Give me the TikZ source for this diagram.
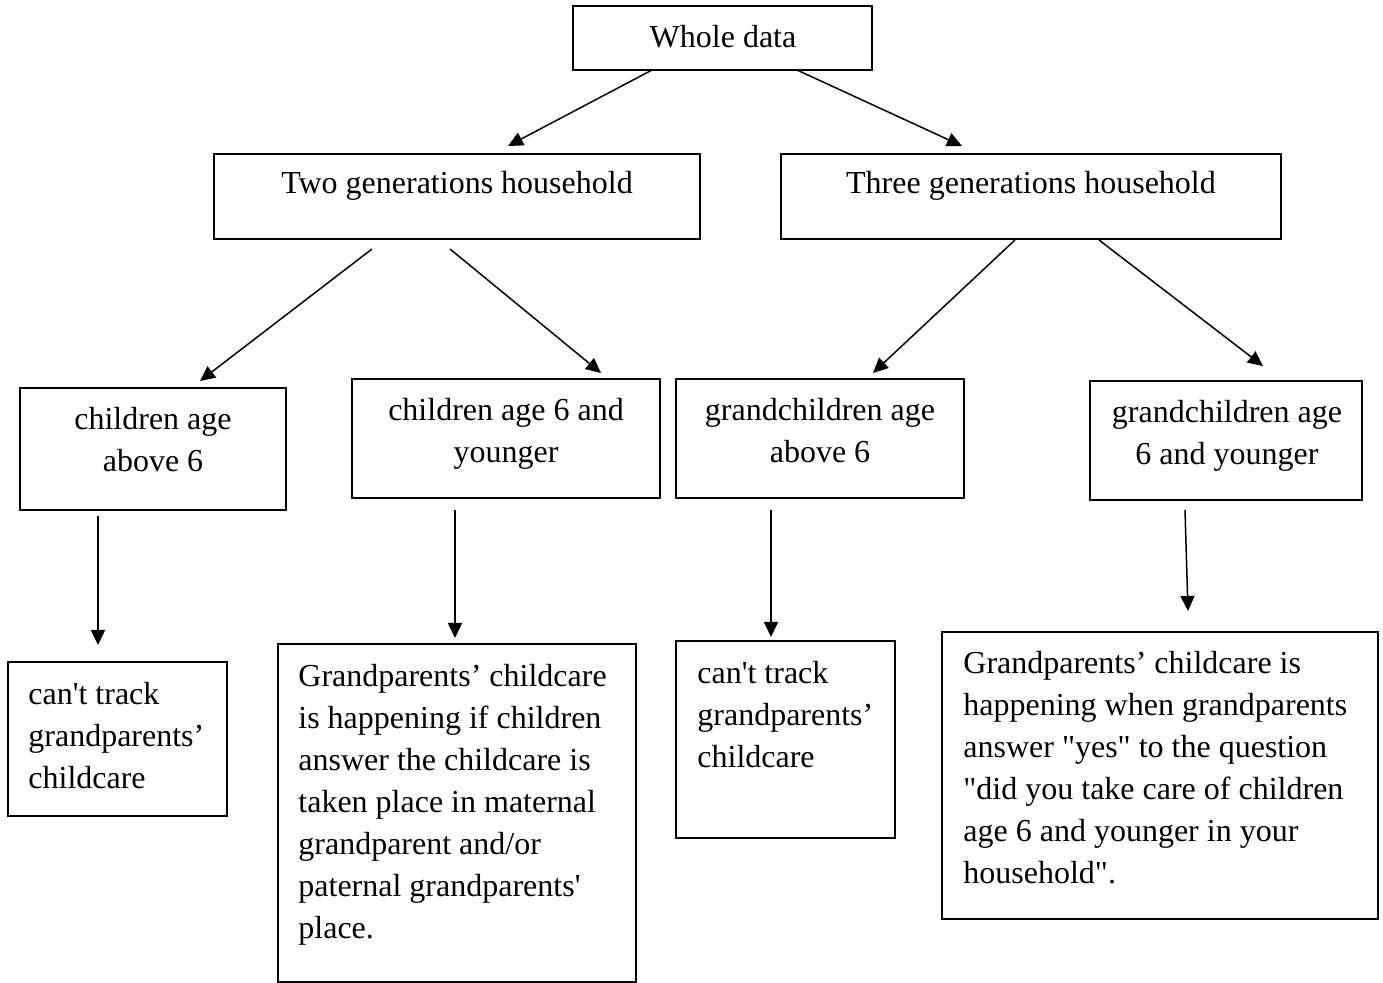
\documentclass[tikz,border=0pt]{standalone}
\usepackage{fontspec}
\setmainfont{Liberation Serif}
\usetikzlibrary{arrows.meta,fit}
\begin{document}
\begin{tikzpicture}[x=0.5pt,y=-0.5pt,
  box/.style={draw, line width=0.75pt, inner sep=0pt},
  txt/.style={inner sep=0pt, font=\fontsize{16}{21}\selectfont},
  arr/.style={-{Triangle[length=7.5pt,width=7pt]}, line width=0.75pt}]
\useasboundingbox (0,0) rectangle (1383,983);
% boxes
\node[box, fit={(573,6) (872,70)}] (whole) {};
\node[box, fit={(214,154) (700,239)}] (two) {};
\node[box, fit={(781,154) (1281,239)}] (three) {};
\node[box, fit={(20,388) (286,510)}] (cabove) {};
\node[box, fit={(352,379) (660,498)}] (cyoung) {};
\node[box, fit={(676,379) (964,498)}] (gabove) {};
\node[box, fit={(1090,381) (1362,500)}] (gyoung) {};
\node[box, fit={(8,662) (227,816)}] (track1) {};
\node[box, fit={(278,644) (636,982)}] (gpif) {};
\node[box, fit={(676,641) (895,838)}] (track2) {};
\node[box, fit={(942,632) (1378,919)}] (gpwhen) {};
% texts
\node[txt] (wholet) at (723,37) {Whole data};
\node[txt] (twot) at (457,186) {Two generations household};
\node[txt] (threet) at (1031,186) {Three generations household};
\node[txt, anchor=north, align=center] (cabovet) at (153,407) {children age\\above 6};
\node[txt, anchor=north, align=center] (cyoungt) at (506,398) {children age 6 and\\younger};
\node[txt, anchor=north, align=center] (gabovet) at (820,398) {grandchildren age\\above 6};
\node[txt, anchor=north, align=center] (gyoungt) at (1227,400) {grandchildren age\\6 and younger};
\node[txt, anchor=north west, align=left] (track1t) at (28,682) {can\textquotesingle t track\\grandparents’\\childcare};
\node[txt, anchor=north west, align=left] (gpift) at (298,664) {Grandparents’ childcare\\is happening if children\\answer the childcare is\\taken place in maternal\\grandparent and/or\\paternal grandparents\textquotesingle\\place.};
\node[txt, anchor=north west, align=left] (track2t) at (697,661) {can\textquotesingle t track\\grandparents’\\childcare};
\node[txt, anchor=north west, align=left] (gpwhent) at (963,651) {Grandparents’ childcare is\\happening when grandparents\\answer \textquotedbl yes\textquotedbl{} to the question\\\textquotedbl did you take care of children\\age 6 and younger in your\\household\textquotedbl .};
% connector end points
\coordinate (a1s) at (652,70);  \coordinate (a1e) at (508,146);
\coordinate (a2s) at (797,70);  \coordinate (a2e) at (962,146);
\coordinate (a3s) at (372,249); \coordinate (a3e) at (200,381);
\coordinate (a4s) at (450,249); \coordinate (a4e) at (601,373);
\coordinate (a5s) at (1015,240);\coordinate (a5e) at (873,373);
\coordinate (a6s) at (1099,240);\coordinate (a6e) at (1263,366);
\coordinate (a7s) at (98,516);  \coordinate (a7e) at (98,645);
\coordinate (a8s) at (455,510); \coordinate (a8e) at (455,638);
\coordinate (a9s) at (771,510); \coordinate (a9e) at (771,637);
\coordinate (a10s) at (1185,510);\coordinate (a10e) at (1188,611);
\foreach \i in {1,...,10} {\draw[arr] (a\i s) -- (a\i e);}
\end{tikzpicture}
\end{document}
